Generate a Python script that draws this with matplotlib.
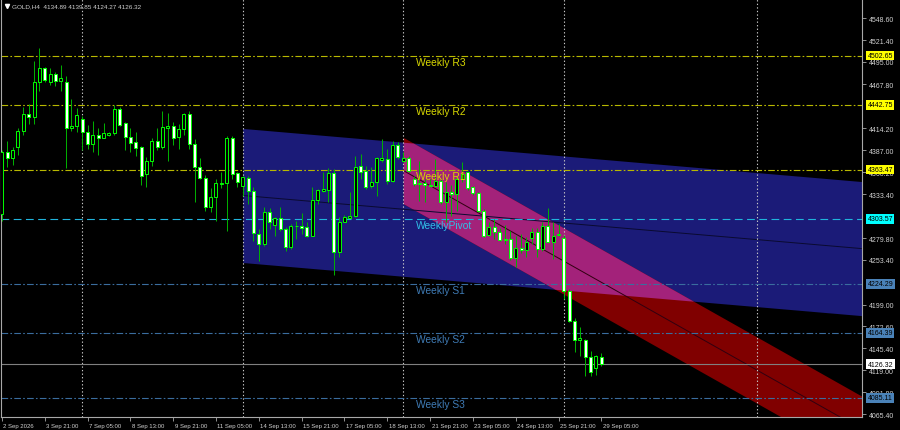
import numpy as np
import matplotlib
matplotlib.use("Agg")
import matplotlib.pyplot as plt
import matplotlib.transforms as mtransforms

plt.rcParams['font.family'] = ['Liberation Sans', 'DejaVu Sans']

# GOLD H4 candles, oldest first
opens = [4309.5, 4385.5, 4377.4, 4390.8, 4411.1, 4431.5, 4428.2, 4470.9, 4487.2, 4470.9,
         4480.3, 4471.7, 4470.9, 4414.0, 4416.5, 4425.4, 4409.1, 4394.9, 4405.9, 4402.6,
         4406.2, 4407.9, 4437.6, 4420.1, 4403.8, 4396.9, 4390.8, 4358.3, 4374.5, 4398.9,
         4390.8, 4414.8, 4416.5, 4403.8, 4413.2, 4431.5, 4394.9, 4366.4, 4353.0, 4317.6,
         4329.8, 4346.1, 4347.3, 4401.8, 4359.1, 4344.0, 4353.0, 4337.9, 4285.1, 4272.9,
         4311.5, 4296.0, 4304.2, 4291.2, 4268.8, 4294.5, 4295.2, 4293.2, 4283.0, 4326.9,
         4337.9, 4339.1, 4359.5, 4263.5, 4300.1, 4304.2, 4306.6, 4367.7, 4362.3, 4343.3,
         4348.1, 4375.7, 4376.6, 4350.1, 4393.7, 4374.5, 4377.4, 4352.2, 4347.3, 4347.3,
         4344.8, 4344.0, 4350.1, 4323.7, 4336.7, 4333.5, 4352.2, 4361.1, 4342.0, 4335.1,
         4313.5, 4283.8, 4293.2, 4287.9, 4279.0, 4279.0, 4255.4, 4268.3, 4265.9, 4279.8,
         4287.9, 4266.8, 4295.2, 4275.7, 4283.8, 4279.8, 4215.9, 4179.3, 4155.3, 4156.1,
         4134.6, 4121.2, 4134.89]
highs = [4388.0, 4398.9, 4391.6, 4414.0, 4439.7, 4443.7, 4496.5, 4511.6, 4488.5, 4487.2,
         4483.1, 4491.3, 4477.5, 4449.8, 4438.4, 4428.7, 4418.1, 4423.3, 4414.0, 4420.5,
         4409.9, 4442.5, 4439.7, 4421.3, 4414.0, 4409.1, 4392.1, 4378.6, 4401.8, 4414.0,
         4435.5, 4432.7, 4422.1, 4419.3, 4432.7, 4435.5, 4401.0, 4377.4, 4357.0, 4340.8,
         4352.2, 4361.1, 4404.3, 4405.0, 4361.1, 4356.2, 4356.2, 4342.0, 4291.2, 4317.6,
         4316.4, 4305.4, 4317.6, 4293.2, 4297.3, 4301.3, 4310.7, 4299.3, 4342.0, 4340.0,
         4360.3, 4365.2, 4364.4, 4305.4, 4308.2, 4335.9, 4379.9, 4382.7, 4368.4, 4366.4,
         4378.6, 4401.0, 4388.8, 4398.9, 4396.9, 4384.7, 4379.9, 4356.2, 4374.5, 4352.2,
         4352.2, 4376.6, 4352.2, 4348.1, 4344.8, 4356.2, 4372.5, 4362.3, 4344.0, 4335.9,
         4315.6, 4299.3, 4303.4, 4292.0, 4296.0, 4289.1, 4283.0, 4285.1, 4281.0, 4292.0,
         4292.0, 4299.3, 4316.4, 4300.1, 4297.3, 4283.8, 4217.9, 4182.6, 4171.2, 4156.9,
         4142.7, 4137.4, 4139.85]
lows = [4300.9, 4366.4, 4369.3, 4381.5, 4405.9, 4419.3, 4419.3, 4459.9, 4470.2, 4466.9,
        4466.0, 4459.9, 4365.2, 4411.1, 4409.9, 4387.9, 4388.8, 4385.5, 4381.5, 4401.8,
        4404.3, 4405.9, 4416.5, 4387.9, 4385.5, 4380.6, 4344.8, 4342.0, 4367.7, 4387.9,
        4388.8, 4374.5, 4393.7, 4388.8, 4405.9, 4388.8, 4323.7, 4352.2, 4313.5, 4311.5,
        4301.3, 4340.8, 4289.1, 4352.2, 4342.0, 4331.8, 4321.7, 4276.9, 4252.5, 4270.8,
        4291.2, 4283.0, 4289.1, 4264.7, 4266.8, 4279.0, 4285.1, 4281.0, 4282.2, 4321.7,
        4335.9, 4323.7, 4235.0, 4256.6, 4299.3, 4304.2, 4305.4, 4352.2, 4340.0, 4340.8,
        4331.8, 4372.5, 4346.1, 4348.1, 4376.6, 4372.5, 4361.1, 4344.0, 4325.7, 4323.7,
        4342.0, 4343.3, 4321.7, 4299.3, 4307.4, 4313.5, 4348.1, 4339.1, 4332.6, 4311.5,
        4281.0, 4282.2, 4279.0, 4276.9, 4272.9, 4253.7, 4244.4, 4261.9, 4256.6, 4272.9,
        4256.6, 4264.7, 4274.9, 4254.6, 4283.0, 4205.7, 4177.3, 4140.7, 4135.8, 4111.4,
        4111.4, 4113.0, 4124.27]
closes = [4385.5, 4377.4, 4387.6, 4411.1, 4431.5, 4428.2, 4470.9, 4487.2, 4473.3, 4480.3,
          4472.1, 4475.0, 4414.0, 4416.5, 4430.2, 4409.9, 4394.9, 4405.9, 4402.6, 4407.9,
          4407.9, 4437.6, 4418.1, 4403.0, 4396.1, 4390.4, 4356.2, 4374.5, 4398.9, 4390.8,
          4415.3, 4416.5, 4401.8, 4413.2, 4431.5, 4394.9, 4366.4, 4353.0, 4317.6, 4329.8,
          4347.3, 4347.3, 4401.8, 4358.3, 4348.9, 4355.0, 4337.9, 4286.3, 4272.9, 4311.5,
          4299.3, 4304.2, 4291.2, 4268.8, 4295.2, 4295.2, 4292.0, 4283.0, 4326.9, 4338.7,
          4340.0, 4359.5, 4263.5, 4300.1, 4305.4, 4306.6, 4366.4, 4361.1, 4342.0, 4348.1,
          4377.4, 4377.4, 4350.1, 4393.7, 4378.6, 4377.4, 4362.3, 4346.1, 4346.1, 4344.8,
          4343.3, 4350.1, 4323.7, 4336.7, 4333.5, 4352.2, 4358.3, 4340.8, 4335.1, 4313.5,
          4283.0, 4293.2, 4287.1, 4278.1, 4278.1, 4255.4, 4267.6, 4265.9, 4274.9, 4287.9,
          4266.8, 4295.2, 4275.7, 4283.0, 4285.1, 4215.9, 4179.3, 4156.1, 4157.8, 4134.6,
          4116.3, 4135.8, 4126.32]

# time labels, one every 8 bars
time_labels = ["2 Sep 2026", "3 Sep 21:00", "7 Sep 05:00", "8 Sep 13:00", "9 Sep 21:00",
               "11 Sep 05:00", "14 Sep 13:00", "15 Sep 21:00", "17 Sep 05:00", "18 Sep 13:00",
               "21 Sep 21:00", "23 Sep 05:00", "24 Sep 13:00", "25 Sep 21:00", "29 Sep 05:00"]
label_step = 8

# price scale (ticks fully hidden under the level boxes are left out)
price_ticks = [4548.60, 4521.40, 4495.00, 4467.80, 4414.20, 4387.00, 4360.20,
               4333.40, 4279.80, 4253.40, 4199.00, 4172.60, 4145.40,
               4119.00, 4091.80, 4065.40]

# weekly pivot levels
level_names = ["Weekly R3", "Weekly R2", "Weekly R1", "WeeklyPivot", "Weekly S1", "Weekly S2", "Weekly S3"]
level_values = [4502.65, 4442.75, 4363.47, 4303.57, 4224.29, 4164.39, 4085.11]
level_kinds = ["R", "R", "R", "P", "S", "S", "S"]
last_price = 4126.32
title = "GOLD,H4  4134.89 4139.85 4124.27 4126.32"

# period separators (bar index)
separators = [15, 45, 75, 105, 141]

# regression channels: start bar, middle price at start, slope per bar, half width
blue_channel = (45, 4332.1, -0.5605, 81.8)
red_channel = (75, 4362.5, -3.685, 40.4)

kind_color = {"R": "#b8b800", "P": "#20b4dc", "S": "#3a6d9e"}
kind_text = {"R": "#d8d800", "P": "#30c0e8", "S": "#3f7bb5"}
kind_box = {"R": "#ffff00", "P": "#00ffff", "S": "#4a82b8"}

fig = plt.figure(figsize=(9, 4.31), dpi=100, facecolor="black")
ax = fig.add_axes([1 / 900, 13 / 431, 861 / 900, 418 / 431])
ax.set_facecolor("black")

x = np.arange(len(opens))
xmin, xmax = -0.17, 160.7
ax.set_xlim(xmin, xmax)
ax.set_ylim(4061.8, 4571.8)

# channels
def band(ch, xs):
    start, mid, slope, half = ch
    m = mid + slope * (xs - start)
    return m - half, m + half, m

xs_b = np.linspace(blue_channel[0], xmax, 400)
lo_b, hi_b, mid_b = band(blue_channel, xs_b)
ax.fill_between(xs_b, lo_b, hi_b, color="#1b1b78", lw=0, zorder=1)
xs_r = np.linspace(red_channel[0], xmax, 400)
lo_r, hi_r, mid_r = band(red_channel, xs_r)
ax.fill_between(xs_r, lo_r, hi_r, color="#800000", lw=0, zorder=1)
lo_bb, hi_bb, _ = band(blue_channel, xs_r)
lo_o = np.maximum(lo_bb, lo_r)
hi_o = np.minimum(hi_bb, hi_r)
ax.fill_between(xs_r, lo_o, hi_o, where=hi_o > lo_o, interpolate=True,
                color="#a3227a", lw=0, zorder=1.1)
ax.plot(xs_b, mid_b, color="#0a0a30", lw=0.7, zorder=1.2)
ax.plot(xs_r, mid_r, color="#300010", lw=0.7, zorder=1.2)

# separators
for s in separators:
    ax.axvline(s, color="#c8c8c8", lw=0.8, ls=(0, (1.2, 2)), zorder=1.5)

# pivot lines and labels
ytrans = mtransforms.blended_transform_factory(ax.transAxes, ax.transData)
for name, val, kind in zip(level_names, level_values, level_kinds):
    ls = (0, (7, 4)) if kind == "P" else (0, (6, 2, 1.5, 2))
    ax.axhline(val, color=kind_color[kind], lw=0.8, ls=ls, zorder=2)
    ax.text(0.482, val - 1.5, name, transform=ytrans,
            color=kind_text[kind], fontsize=7.4, va="top", ha="left", zorder=6)
ax.axhline(last_price, color="#808080", lw=0.8, zorder=2)

# candles
o = np.array(opens)
c = np.array(closes)
bear = c < o
ax.vlines(x, lows, highs, color="#00b400", lw=0.7, zorder=3)
bottom = np.minimum(o, c)
height = np.maximum(np.abs(c - o), 0.6)
face = np.where(bear, "white", "black")
ax.bar(x, height, 0.56, bottom, color=face, edgecolor="#00ff00", linewidth=0.7, zorder=4)

# axes styling
for side in ["left", "right", "bottom"]:
    ax.spines[side].set_color("#a8a8a8")
    ax.spines[side].set_linewidth(0.8)
ax.spines["top"].set_visible(False)

ax.yaxis.tick_right()
ax.set_yticks(price_ticks)
ax.set_yticklabels(["%.2f" % v for v in price_ticks])
ax.tick_params(axis="y", colors="#a8a8a8", labelcolor="#d0d0d0", labelsize=5.0, length=3, width=0.6, pad=2)

ax.set_xticks(x[::label_step])
ax.set_xticklabels(time_labels)
ax.tick_params(axis="x", colors="#a8a8a8", labelcolor="#d0d0d0", labelsize=4.3, length=3, width=0.6, pad=1.5)
offset = mtransforms.ScaledTranslation(1.5 / 100, 0, fig.dpi_scale_trans)
for lbl in ax.get_xticklabels():
    lbl.set_ha("left")
    lbl.set_transform(lbl.get_transform() + offset)

# price boxes on the right
for val, kind in zip(level_values, level_kinds):
    ax.text(1.0066, val, "%.2f" % val, transform=ytrans, fontsize=5.0, color="black",
            va="center", ha="left", clip_on=False, zorder=10,
            bbox=dict(boxstyle="square,pad=0.18", fc=kind_box[kind], ec="none"))
ax.text(1.0066, last_price, "%.2f" % last_price, transform=ytrans, fontsize=5.0, color="black",
        va="center", ha="left", clip_on=False, zorder=10,
        bbox=dict(boxstyle="square,pad=0.18", fc="white", ec="none"))

# title
ax.plot([6 / 861], [1 - 7 / 418], marker="v", ms=3, color="white", transform=ax.transAxes, clip_on=False)
fig.text(12 / 900, 1 - 7 / 431, title, fontsize=4.6, color="#d0d0d0", va="center", ha="left")

fig.savefig("out.png", dpi=100, facecolor="black")
